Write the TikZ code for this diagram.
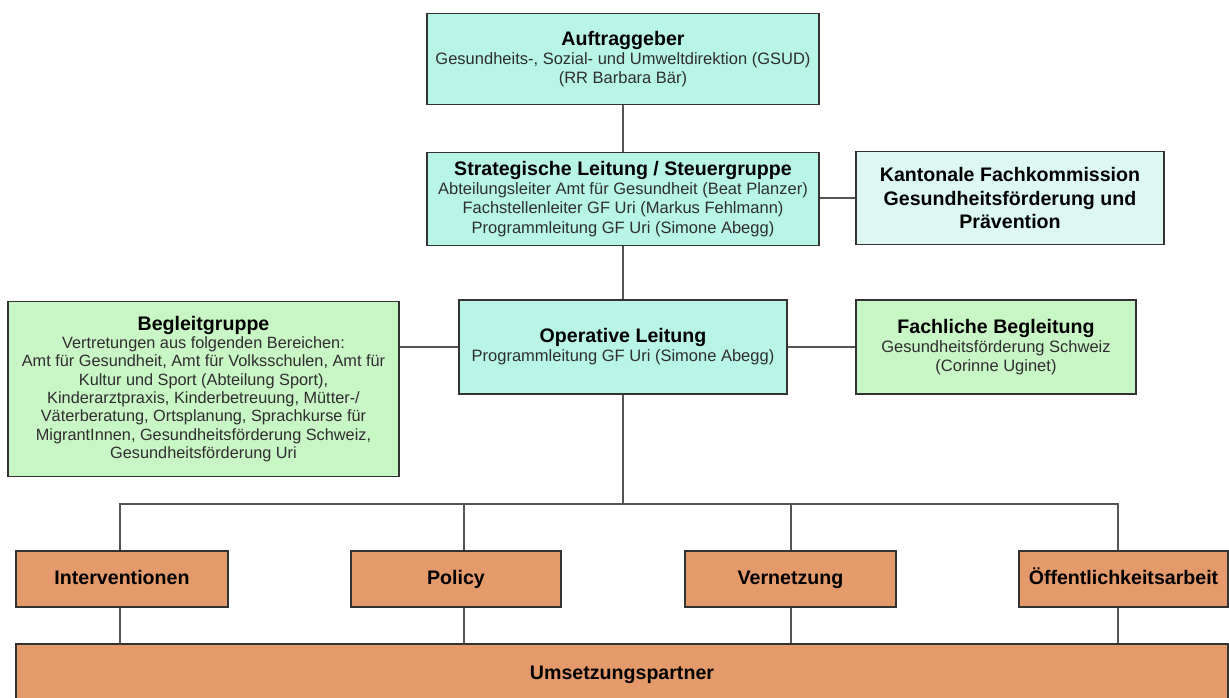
\documentclass[tikz,border=0pt]{standalone}
\usepackage{fontspec}
\setmainfont{Liberation Sans}
\definecolor{teal1}{HTML}{B8F5E6}
\definecolor{teal2}{HTML}{DDF8F2}
\definecolor{green1}{HTML}{C8F6C4}
\definecolor{orange1}{HTML}{E49A6B}
\definecolor{edge}{HTML}{333333}
\definecolor{wire}{HTML}{555555}
\definecolor{subtxt}{HTML}{2E2E2E}
\newcommand{\ttlf}{\fontsize{19.6}{23}\selectfont\bfseries\color{black}}
\tikzset{
  box/.style={draw=edge, line width=1.7pt, rectangle, inner sep=0pt, align=center, text=subtxt,
    font=\fontsize{16.5}{19.2}\selectfont},
  ttl/.style={font=\fontsize{19.6}{23.5}\selectfont\bfseries, text=black},
  single/.style={text height=14pt, text depth=4pt},
  wireline/.style={draw=wire, line width=1.8pt},
}
\begin{document}
\begin{tikzpicture}[x=1pt,y=-1pt]
\useasboundingbox (0,0) rectangle (1229,697);
\clip (0,0) rectangle (1229,697);
% top boxes
\node[box, fill=teal1, minimum width=392pt, minimum height=91pt] (auf) at (623,59)
  {{\ttlf Auftraggeber}\\Gesundheits-, Sozial- und Umweltdirektion (GSUD)\\(RR Barbara Bär)};
\node[box, fill=teal1, minimum width=392pt, minimum height=93pt] (str) at (623,199)
  {{\ttlf Strategische Leitung / Steuergruppe}\\Abteilungsleiter Amt für Gesundheit (Beat Planzer)\\Fachstellenleiter GF Uri (Markus Fehlmann)\\Programmleitung GF Uri (Simone Abegg)};
\node[box, fill=teal2, minimum width=308pt, minimum height=93pt, ttl] (kan) at (1010,198)
  {Kantonale Fachkommission\\Gesundheitsförderung und\\Prävention};
% middle row
\node[box, fill=green1, minimum width=391pt, minimum height=175pt, font=\fontsize{16.3}{18.3}\selectfont] (beg) at (203.5,389)
  {{\ttlf Begleitgruppe}\\Vertretungen aus folgenden Bereichen:\\Amt für Gesundheit, Amt für Volksschulen, Amt für\\Kultur und Sport (Abteilung Sport),\\Kinderarztpraxis, Kinderbetreuung, Mütter-/\\Väterberatung, Ortsplanung, Sprachkurse für\\MigrantInnen, Gesundheitsförderung Schweiz,\\Gesundheitsförderung Uri};
\node[box, fill=teal1, minimum width=328pt, minimum height=94pt] (op) at (623,347)
  {{\ttlf Operative Leitung}\\Programmleitung GF Uri (Simone Abegg)};
\node[box, fill=green1, minimum width=280pt, minimum height=94pt] (fac) at (996,347)
  {{\ttlf Fachliche Begleitung}\\Gesundheitsförderung Schweiz\\(Corinne Uginet)};
% bottom row
\node[box, fill=orange1, minimum width=212pt, minimum height=56pt, ttl, single] (int) at (122,579) {Interventionen};
\node[box, fill=orange1, minimum width=210pt, minimum height=56pt, ttl, single] (pol) at (456,579) {Policy};
\node[box, fill=orange1, minimum width=211pt, minimum height=56pt, ttl, single] (ver) at (790.5,579) {Vernetzung};
\node[box, fill=orange1, minimum width=209pt, minimum height=56pt, ttl, single] (oef) at (1123.5,579) {Öffentlichkeitsarbeit};
\node[box, fill=orange1, minimum width=1212pt, minimum height=80pt, anchor=north] (ums) at (622,643) {};
\node[ttl, single, anchor=center] (umstxt) at (622,674) {Umsetzungspartner};
% connectors
\coordinate (bus) at (623,504);
\draw[wireline] (auf.south) -- (str.north);
\draw[wireline] (str.east |- kan.west) -- (kan.west);
\draw[wireline] (str.south) -- (op.north);
\draw[wireline] (beg.east |- op.west) -- (op.west);
\draw[wireline] (op.east) -- (fac.west);
\draw[wireline] (op.south) -- (bus);
\draw[wireline] ([xshift=-2pt]int.north) -- ([xshift=-2pt]int.north |- bus) -- ([xshift=-5.5pt]oef.north |- bus) -- ([xshift=-5.5pt]oef.north);
\draw[wireline] ([xshift=8pt]pol.north) -- ([xshift=8pt]pol.north |- bus);
\draw[wireline] ([xshift=0.5pt]ver.north) -- ([xshift=0.5pt]ver.north |- bus);
\draw[wireline] ([xshift=-2pt]int.south) -- ([xshift=-2pt]int.south |- ums.north);
\draw[wireline] ([xshift=8pt]pol.south) -- ([xshift=8pt]pol.south |- ums.north);
\draw[wireline] ([xshift=0.5pt]ver.south) -- ([xshift=0.5pt]ver.south |- ums.north);
\draw[wireline] ([xshift=-5.5pt]oef.south) -- ([xshift=-5.5pt]oef.south |- ums.north);
\end{tikzpicture}
\end{document}
